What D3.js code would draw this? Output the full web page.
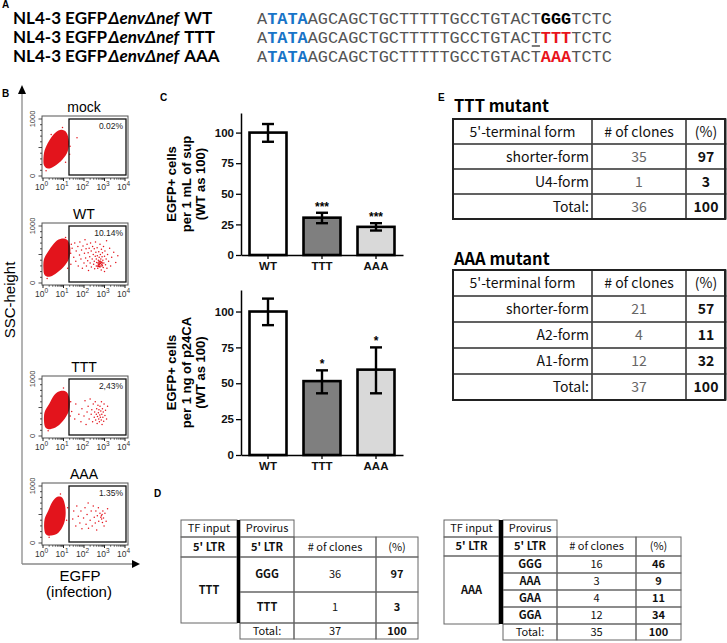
<!DOCTYPE html>
<html>
<head>
<meta charset="utf-8">
<script src="https://cdn.jsdelivr.net/npm/d3@7"></script>
<style>body{margin:0;background:#fff}</style>
</head>
<body>
<script>
// ---- panel A : constructs
var constructs = ["WT", "TTT", "AAA"];
var seqHead = "A", tataBox = "TATA", seqBody = "AGCAGCTGCTTTTTGCCTGTACT", seqTail = "TCTC";
var mutSites = ["GGG", "TTT", "AAA"];

// ---- panel B : flow plots (x = log10 EGFP, y = SSC)
var flowSamples = ["mock", "WT", "TTT", "AAA"];
var gatePercent = ["0.02%", "10.14%", "2,43%", "1.35%"];
var decades = [0, 1, 2, 3, 4];
var sscLabels = [0, 1000];
var blobMock = [[0.02,280],[0.06,180],[0.25,130],[0.55,170],[0.95,290],[1.2,430],[1.27,600],[1.15,760],[0.9,810],[0.6,760],[0.3,620],[0.08,450]];
var blobWT = [[0.02,250],[0.08,140],[0.3,110],[0.6,160],[1.0,280],[1.28,440],[1.33,620],[1.2,750],[0.92,780],[0.6,720],[0.3,580],[0.05,420]];
var blobTTT = [[0.05,260],[0.12,150],[0.35,120],[0.7,170],[1.05,300],[1.28,460],[1.3,640],[1.15,770],[0.85,790],[0.55,720],[0.3,560],[0.08,420]];
var blobAAA = [[0.06,250],[0.15,150],[0.4,130],[0.75,180],[1.0,320],[1.1,480],[1.08,650],[0.95,790],[0.7,810],[0.45,720],[0.25,560],[0.08,420]];
var eventsMock = [[1.66,670],[1.3,380],[1.32,520],[0.95,850],[0.15,90],[1.1,240],[0.4,730]];
var eventsWT = [[1.35,520],[1.42,610],[1.5,450],[1.55,700],[1.6,380],[1.62,560],[1.7,640],[1.72,300],[1.78,490],[1.8,720],[1.85,420],[1.88,580],[1.92,260],[1.95,650],[2.0,350],[2.02,520],[2.05,760],[2.08,440],[2.1,600],[2.12,300],[2.15,680],[2.18,390],[2.2,530],[2.22,220],[2.25,610],[2.28,460],[2.3,350],[2.32,700],[2.35,560],[2.36,280],[2.4,420],[2.42,640],[2.45,500],[2.47,330],[2.5,600],[2.5,380],[2.52,250],[2.55,470],[2.56,720],[2.58,540],[2.6,300],[2.6,420],[2.62,360],[2.64,620],[2.65,480],[2.67,260],[2.7,400],[2.7,330],[2.72,550],[2.74,450],[2.75,290],[2.76,380],[2.78,680],[2.8,500],[2.8,340],[2.82,420],[2.84,230],[2.85,590],[2.87,370],[2.88,460],[2.9,310],[2.9,530],[2.92,400],[2.94,270],[2.95,640],[2.97,350],[3.0,470],[3.0,200],[3.02,560],[3.05,320],[3.08,420],[3.1,740],[3.12,260],[3.15,500],[3.2,380],[3.25,610],[3.3,300],[3.35,450],[3.45,540],[3.55,360],[3.65,480],[2.68,350],[2.72,310],[2.78,360],[2.82,300],[2.86,330],[2.7,290],[2.76,320],[2.8,380],[2.74,340],[2.84,360],[2.66,300],[2.9,350],[2.88,300],[2.78,280],[2.72,370],[1.36,330],[1.38,680],[1.1,800],[0.2,80],[1.2,260]];
var eventsTTT = [[1.4,430],[1.55,300],[1.6,560],[1.75,380],[1.85,250],[1.9,480],[2.0,350],[2.05,620],[2.1,200],[2.15,420],[2.2,520],[2.25,300],[2.3,650],[2.35,380],[2.38,460],[2.42,250],[2.45,560],[2.5,330],[2.52,420],[2.55,600],[2.57,280],[2.6,380],[2.62,480],[2.64,220],[2.66,340],[2.68,540],[2.7,410],[2.72,300],[2.73,460],[2.75,250],[2.77,370],[2.78,520],[2.8,330],[2.82,440],[2.84,280],[2.85,600],[2.87,380],[2.88,200],[2.9,480],[2.92,330],[2.94,420],[2.96,260],[2.98,560],[3.02,360],[3.05,450],[3.1,300],[3.15,520],[1.33,350],[1.35,600],[1.0,840],[0.25,90]];
var eventsAAA = [[1.45,420],[1.5,560],[1.6,300],[1.65,650],[1.72,470],[1.8,350],[1.85,560],[1.9,250],[1.98,440],[2.05,620],[2.1,330],[2.15,500],[2.2,700],[2.22,260],[2.3,400],[2.35,560],[2.4,300],[2.45,650],[2.5,450],[2.55,350],[2.58,560],[2.62,230],[2.65,480],[2.7,620],[2.72,380],[2.78,520],[2.82,450],[2.85,480],[2.86,420],[2.88,500],[2.9,360],[2.92,560],[2.95,440],[2.98,300],[3.02,520],[3.08,380],[3.15,600],[1.15,400],[1.2,620],[0.85,860],[0.3,100]];
var blobs = [blobMock, blobWT, blobTTT, blobAAA];
var events = [eventsMock, eventsWT, eventsTTT, eventsAAA];

// ---- panel C : bar charts
var groups = ["WT", "TTT", "AAA"];
var barFill = ["#ffffff", "#7f7f7f", "#d9d9d9"];
var supMean = [100, 30.5, 23];
var supLow = [92.5, 26, 20];
var supHigh = [107, 34.5, 26];
var supStars = ["", "***", "***"];
var p24Mean = [100, 51.5, 59.5];
var p24Low = [90.5, 43, 43];
var p24High = [109, 59, 75];
var p24Stars = ["", "*", "*"];
var barTicks = [0, 25, 50, 75, 100];

// ---- panel D : provirus tables
var dTTTrows = ["GGG", "TTT"], dTTTclones = [36, 1], dTTTpct = [97, 3], dTTTtotal = [37, 100];
var dAAArows = ["GGG", "AAA", "GAA", "GGA"], dAAAclones = [16, 3, 4, 12], dAAApct = [46, 9, 11, 34], dAAAtotal = [35, 100];

// ---- panel E : 5'-terminal forms
var eTTTforms = ["shorter-form", "U4-form"], eTTTclones = [35, 1], eTTTpct = [97, 3], eTTTtotal = [36, 100];
var eAAAforms = ["shorter-form", "A2-form", "A1-form"], eAAAclones = [21, 4, 12], eAAApct = [57, 11, 32], eAAAtotal = [37, 100];

var svg = d3.select("body").append("svg")
    .attr("width", 727).attr("height", 643)
    .style("font-family", "'Liberation Sans', Arial, sans-serif");

function panelLabel(t, x, y) {
  svg.append("text").attr("x", x).attr("y", y).attr("font-weight", "bold")
     .attr("font-size", 10).text(t);
}

// ===== A =====
panelLabel("A", 2, 8);
var rowY = [24, 43, 62];
var seqX = 257, seqFont = 16.9, charW = seqFont * 0.6;
constructs.forEach(function(c, i) {
  var t = svg.append("text").attr("x", 13).attr("y", rowY[i])
     .attr("font-family", "Lato").attr("font-weight", "bold").attr("font-size", 17);
  t.append("tspan").text("NL4-3 EGFP");
  t.append("tspan").attr("dx", 1).attr("font-style", "italic").text("\u0394env\u0394nef");
  t.append("tspan").attr("dx", 5).text(c);

  var s = svg.append("text").attr("x", seqX).attr("y", rowY[i])
     .attr("font-family", "'Liberation Mono', monospace").attr("font-size", seqFont).attr("fill", "#555");
  s.append("tspan").text(seqHead);
  s.append("tspan").attr("fill", "#1874c8").attr("font-weight", "bold").text(tataBox);
  s.append("tspan").text(seqBody);
  s.append("tspan").attr("fill", i == 0 ? "#000" : "#e8141c").attr("font-weight", "bold").text(mutSites[i]);
  s.append("tspan").text(seqTail);
});
// underline of the T preceding TTT
var ulStart = seqHead.length + tataBox.length + seqBody.length - 1;
svg.append("line")
   .attr("x1", seqX + ulStart * charW + 1).attr("x2", seqX + (ulStart + 1) * charW - 1)
   .attr("y1", rowY[1] + 3).attr("y2", rowY[1] + 3).attr("stroke", "#222").attr("stroke-width", 1.2);

// ===== B =====
panelLabel("B", 2, 97);
var red = "#e3141c";
var arrowY = 564;
svg.append("line").attr("x1", 22).attr("x2", 22).attr("y1", arrowY).attr("y2", 93)
   .attr("stroke", "#8a8a8a").attr("stroke-width", 1.3);
svg.append("path").attr("d", "M22,85 L18,94 L26,94 Z").attr("fill", "#000");
svg.append("line").attr("x1", 22).attr("x2", 133).attr("y1", arrowY).attr("y2", arrowY)
   .attr("stroke", "#8a8a8a").attr("stroke-width", 1.3);
svg.append("path").attr("d", "M140," + arrowY + " L132," + (arrowY - 4) + " L132," + (arrowY + 4) + " Z").attr("fill", "#000");
svg.append("text").attr("transform", "translate(15,300) rotate(-90)")
   .attr("text-anchor", "middle").attr("font-size", 15).text("SSC-height");
svg.append("text").attr("x", 80).attr("y", 581).attr("text-anchor", "middle").attr("font-size", 15).text("EGFP");
svg.append("text").attr("x", 79).attr("y", 597).attr("text-anchor", "middle").attr("font-size", 15).text("(infection)");

var titleY = [112, 219, 372, 479];
var plotH = 62;
var minorLog = [];
[0, 1, 2, 3].forEach(function(d) { [2,3,4,5,6,7,8,9].forEach(function(k) { minorLog.push(d + Math.log10(k)); }); });

flowSamples.forEach(function(name, i) {
  var top = titleY[i] + 4, bot = top + plotH;
  var x = d3.scaleLinear().domain([0, 4]).range([43, 125]);
  var y = d3.scaleLinear().domain([0, 1000]).range([bot - 2, top + 3]);
  var g = svg.append("g");

  g.append("text").attr("x", 84).attr("y", titleY[i]).attr("text-anchor", "middle")
   .attr("font-size", 14).text(name);

  // blob of EGFP- cells
  var line = d3.line().x(function(d) { return x(d[0]); }).y(function(d) { return y(d[1]); })
      .curve(d3.curveCardinalClosed);
  g.append("path").attr("d", line(blobs[i])).attr("fill", red);
  g.selectAll("circle.ev").data(events[i]).enter().append("circle")
   .attr("cx", function(d) { return x(d[0]); }).attr("cy", function(d) { return y(d[1]); })
   .attr("r", 0.75).attr("fill", red);

  // frame and gate
  g.append("rect").attr("x", 42).attr("y", top).attr("width", 86).attr("height", plotH)
   .attr("fill", "none").attr("stroke", "#555").attr("stroke-width", 1);
  g.append("rect").attr("x", 69).attr("y", top + 3).attr("width", 57).attr("height", plotH - 6)
   .attr("fill", "none").attr("stroke", "#111").attr("stroke-width", 1.3);
  g.append("text").attr("x", 123).attr("y", top + 13).attr("text-anchor", "end")
   .attr("font-size", 8.5).attr("fill", "#222").text(gatePercent[i]);

  // axes
  g.selectAll("line.mj").data(decades).enter().append("line")
   .attr("x1", function(d) { return x(d); }).attr("x2", function(d) { return x(d); })
   .attr("y1", bot).attr("y2", bot + 3).attr("stroke", "#222");
  g.selectAll("line.mn").data(minorLog).enter().append("line")
   .attr("x1", function(d) { return x(d); }).attr("x2", function(d) { return x(d); })
   .attr("y1", bot).attr("y2", bot + 1.8).attr("stroke", "#222").attr("stroke-width", 0.7);
  g.selectAll("line.yt").data(d3.range(0, 1001, 100)).enter().append("line")
   .attr("x1", 42).attr("x2", function(d) { return d % 500 == 0 ? 38.5 : 40; })
   .attr("y1", function(d) { return y(d); }).attr("y2", function(d) { return y(d); })
   .attr("stroke", "#222").attr("stroke-width", 0.8);
  var xl = g.selectAll("text.xl").data(decades).enter().append("text")
   .attr("x", function(d) { return x(d) - 1.5; }).attr("y", bot + 12)
   .attr("text-anchor", "middle").attr("font-size", 8.5).attr("fill", "#333");
  xl.append("tspan").text("10");
  xl.append("tspan").attr("dy", -4).attr("font-size", 6.5).text(function(d) { return d; });
  g.selectAll("text.yl").data(sscLabels).enter().append("text")
   .attr("transform", function(d) { return "translate(35," + y(d) + ") rotate(-90)"; })
   .attr("text-anchor", "middle").attr("font-size", 7.5).attr("fill", "#333")
   .text(function(d) { return d; });
});

// ===== C =====
panelLabel("C", 160, 101);
function barChart(top0, bot0, yMax, mean, low, high, stars, title) {
  var x = d3.scaleBand().domain(groups).range([241, 403]).paddingInner(0.315).paddingOuter(0.1575);
  var y = d3.scaleLinear().domain([0, yMax]).range([bot0, top0]);
  var g = svg.append("g").attr("font-weight", "bold");
  g.selectAll("rect").data(groups).enter().append("rect")
   .attr("x", function(d) { return x(d); }).attr("width", x.bandwidth())
   .attr("y", function(d, i) { return y(mean[i]); })
   .attr("height", function(d, i) { return y(0) - y(mean[i]); })
   .attr("fill", function(d, i) { return barFill[i]; })
   .attr("stroke", "#000").attr("stroke-width", 2.6);
  var eb = g.selectAll("g.eb").data(groups).enter().append("g");
  eb.append("line").attr("x1", function(d) { return x(d) + x.bandwidth() / 2; })
    .attr("x2", function(d) { return x(d) + x.bandwidth() / 2; })
    .attr("y1", function(d, i) { return y(low[i]); }).attr("y2", function(d, i) { return y(high[i]); })
    .attr("stroke", "#000").attr("stroke-width", 2.4);
  [low, high].forEach(function(arr) {
    eb.append("line").attr("x1", function(d) { return x(d) + x.bandwidth() / 2 - 6; })
      .attr("x2", function(d) { return x(d) + x.bandwidth() / 2 + 6; })
      .attr("y1", function(d, i) { return y(arr[i]); }).attr("y2", function(d, i) { return y(arr[i]); })
      .attr("stroke", "#000").attr("stroke-width", 2.4);
  });
  eb.append("text").attr("x", function(d) { return x(d) + x.bandwidth() / 2; })
    .attr("y", function(d, i) { return y(high[i]) - 2; }).attr("text-anchor", "middle")
    .attr("font-size", 12).text(function(d, i) { return stars[i]; });

  var ya = g.append("g").attr("transform", "translate(241,0)")
     .call(d3.axisLeft(y).tickValues(barTicks).tickSize(5).tickSizeOuter(0).tickPadding(2));
  ya.select(".domain").attr("stroke-width", 1.5);
  ya.selectAll(".tick line").attr("stroke-width", 1.3);
  ya.selectAll("text").attr("font-size", 11.5).attr("font-family", "'Liberation Sans', Arial").attr("fill", "#111");
  var xa = g.append("g").attr("transform", "translate(0," + y(0) + ")")
     .call(d3.axisBottom(x).tickSize(4).tickSizeOuter(0).tickPadding(3));
  xa.select(".domain").attr("stroke-width", 1.5);
  xa.selectAll(".tick line").attr("stroke-width", 1.3);
  xa.selectAll("text").attr("font-size", 11.5).attr("font-family", "'Liberation Sans', Arial").attr("fill", "#111");

  var yc = (top0 + bot0) / 2;
  [176, 191, 205].forEach(function(bx, k) {
    g.append("text").attr("transform", "translate(" + bx + "," + yc + ") rotate(-90)")
     .attr("text-anchor", "middle").attr("font-size", 13).text(title[k]);
  });
}
barChart(113, 255, 116, supMean, supLow, supHigh, supStars, ["EGFP+ cells", "per 1 mL of sup", "(WT as 100)"]);
barChart(290, 455, 115, p24Mean, p24Low, p24High, p24Stars, ["EGFP+ cells", "per 1 ng of p24CA", "(WT as 100)"]);

// ===== D =====
panelLabel("D", 154, 497);
var cjk = "'Noto Sans CJK JP', 'Noto Sans', sans-serif";
function cell(x0, x1, y0, y1, txt, opt) {
  opt = opt || {};
  svg.append("rect").attr("x", x0).attr("y", y0).attr("width", x1 - x0).attr("height", y1 - y0)
     .attr("fill", "none").attr("stroke", opt.stroke || "#666").attr("stroke-width", opt.sw || 1);
  if (txt === undefined || txt === "") return;
  var fs = opt.fs || 11;
  var ax = opt.anchor == "end" ? x1 - 3 : (x0 + x1) / 2;
  svg.append("text").attr("x", ax).attr("y", (y0 + y1) / 2 + fs * 0.36)
     .attr("text-anchor", opt.anchor || "middle").attr("font-family", cjk).attr("font-size", fs)
     .attr("font-weight", opt.bold ? "bold" : "normal").attr("fill", opt.fill || "#111").text(txt);
}
function provirusTable(cx, ry, input, rows, clones, pct, total) {
  cell(cx[0], cx[1], ry[0], ry[1], "TF input");
  cell(cx[2], cx[3], ry[0], ry[1], "Provirus");
  cell(cx[0], cx[1], ry[1], ry[2], "5' LTR", {bold: true});
  cell(cx[2], cx[3], ry[1], ry[2], "5' LTR", {bold: true});
  cell(cx[3], cx[4], ry[1], ry[2], "# of clones");
  cell(cx[4], cx[5], ry[1], ry[2], "(%)");
  var n = rows.length;
  cell(cx[0], cx[1], ry[2], ry[2 + n], input, {bold: true});
  rows.forEach(function(r, k) {
    cell(cx[2], cx[3], ry[2 + k], ry[3 + k], r, {bold: true});
    cell(cx[3], cx[4], ry[2 + k], ry[3 + k], clones[k]);
    cell(cx[4], cx[5], ry[2 + k], ry[3 + k], pct[k], {bold: true});
  });
  cell(cx[2], cx[3], ry[2 + n], ry[3 + n], "Total:");
  cell(cx[3], cx[4], ry[2 + n], ry[3 + n], total[0]);
  cell(cx[4], cx[5], ry[2 + n], ry[3 + n], total[1], {bold: true});
  svg.append("rect").attr("x", cx[1]).attr("y", ry[0]).attr("width", cx[2] - cx[1])
     .attr("height", ry[2 + n] - ry[0]).attr("fill", "#000");
}
provirusTable([181, 237, 240, 294, 376, 418], [520, 537, 557, 592, 623, 639], "TTT", dTTTrows, dTTTclones, dTTTpct, dTTTtotal);
provirusTable([444, 499, 503, 557, 636, 681], [520, 537, 556, 573, 590, 607, 624, 640], "AAA", dAAArows, dAAAclones, dAAApct, dAAAtotal);

// ===== E =====
panelLabel("E", 438, 101);
function formTable(title, titleY0, ry, forms, clones, pct, total) {
  svg.append("text").attr("x", 454).attr("y", titleY0).attr("font-family", cjk)
     .attr("font-weight", "bold").attr("font-size", 16.5).text(title);
  var cx = [453, 592, 686, 726];
  var o = {fs: 14, stroke: "#444", sw: 1.2};
  cell(cx[0], cx[1], ry[0], ry[1], "5'-terminal form", o);
  cell(cx[1], cx[2], ry[0], ry[1], "# of clones", o);
  cell(cx[2], cx[3], ry[0], ry[1], "(%)", o);
  var all = forms.concat(["Total:"]), cl = clones.concat([total[0]]), pc = pct.concat([total[1]]);
  all.forEach(function(f, k) {
    cell(cx[0], cx[1], ry[1 + k], ry[2 + k], f, {fs: 14, stroke: "#444", sw: 1.2, anchor: "end", fill: "#111"});
    cell(cx[1], cx[2], ry[1 + k], ry[2 + k], cl[k], {fs: 14, stroke: "#444", sw: 1.2, fill: "#666"});
    cell(cx[2], cx[3], ry[1 + k], ry[2 + k], pc[k], {fs: 14, stroke: "#444", sw: 1.2, bold: true});
  });
  svg.append("rect").attr("x", cx[0]).attr("y", ry[0]).attr("width", cx[3] - cx[0] - 1)
     .attr("height", ry[ry.length - 1] - ry[0]).attr("fill", "none").attr("stroke", "#222").attr("stroke-width", 2);
}
formTable("TTT mutant", 112, [119, 144, 169, 194, 219], eTTTforms, eTTTclones, eTTTpct, eTTTtotal);
formTable("AAA mutant", 265, [270, 296, 322, 348, 374, 400], eAAAforms, eAAAclones, eAAApct, eAAAtotal);
</script>
</body>
</html>
